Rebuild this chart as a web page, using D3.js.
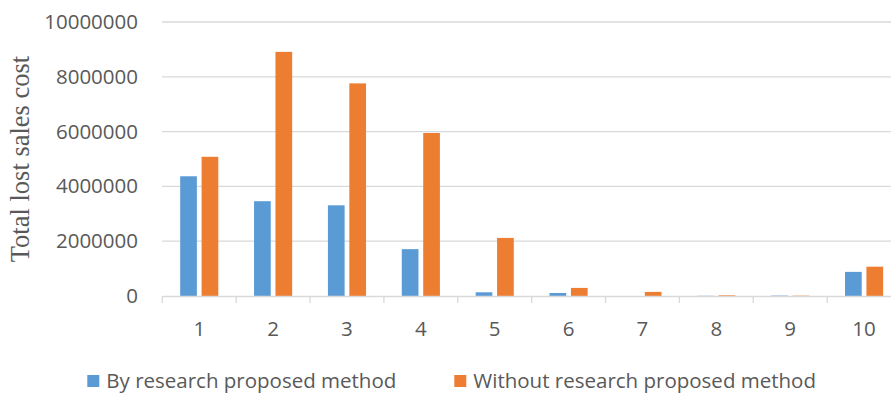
<!DOCTYPE html>
<html>
<head>
<meta charset="utf-8">
<script src="https://cdn.jsdelivr.net/npm/d3@7"></script>
<style>
  html, body { margin: 0; padding: 0; background: #fff; }
  svg { display: block; }
</style>
</head>
<body>
<svg id="chart" width="891" height="394"></svg>
<script>
// Periods on the x axis
const categories = ["1", "2", "3", "4", "5", "6", "7", "8", "9", "10"];
// Total lost sales cost per period
const withMethod = [4370000, 3460000, 3310000, 1710000, 135000, 110000, 0, 8000, 15000, 880000];
const withoutMethod = [5080000, 8910000, 7760000, 5950000, 2120000, 295000, 150000, 25000, 12000, 1070000];
const seriesNames = ["By research proposed method", "Without research proposed method"];
const colors = ["#5B9BD5", "#ED7D31"];
const yTicks = [0, 2000000, 4000000, 6000000, 8000000, 10000000];

const svg = d3.select("#chart");
const tickFont = "'Open Sans', 'Liberation Sans', Arial, sans-serif";

const x0 = d3.scaleBand().domain(categories).range([162.3, 901]).paddingInner(0).paddingOuter(0);
const y = d3.scaleLinear().domain([0, 10000000]).range([296, 22]);

// gridlines
svg.append("g").selectAll("line").data(yTicks.slice(1)).join("line")
  .attr("x1", 162).attr("x2", 891)
  .attr("y1", d => y(d)).attr("y2", d => y(d))
  .attr("stroke", "#D9D9D9").attr("stroke-width", 1.3);

// bars
const bw = x0.bandwidth();
const barW = bw * 0.226;
const gap = bw * 0.064;
const series = [withMethod, withoutMethod];
series.forEach((vals, si) => {
  svg.append("g").selectAll("rect").data(categories).join("rect")
    .attr("x", (c) => x0(c) + bw / 2 + (si === 0 ? -gap / 2 - barW : gap / 2))
    .attr("width", barW)
    .attr("y", (c, i) => y(vals[i]))
    .attr("height", (c, i) => y(0) - y(vals[i]))
    .attr("fill", colors[si]);
});

// x axis
const xAxis = d3.axisBottom(x0).tickSize(0).tickPadding(25);
const gx = svg.append("g").attr("transform", "translate(0,296)").call(xAxis);
gx.select(".domain").attr("stroke", "#D9D9D9").attr("stroke-width", 1.3);
gx.selectAll("text").attr("font-family", tickFont).attr("font-size", 20.5).attr("fill", "#595959")
  .attr("dy", "0.71em");
// category separators
svg.append("g").selectAll("line").data(categories.concat([null])).join("line")
  .attr("x1", (d, i) => 162.3 + i * bw).attr("x2", (d, i) => 162.3 + i * bw)
  .attr("y1", 296).attr("y2", 303)
  .attr("stroke", "#D9D9D9").attr("stroke-width", 1.3);

// y axis labels
const yAxis = d3.axisLeft(y).tickValues(yTicks).tickSize(0).tickPadding(24).tickFormat(d3.format("d"));
const gy = svg.append("g").attr("transform", "translate(162,0)").call(yAxis);
gy.select(".domain").remove();
gy.selectAll("text").attr("font-family", tickFont).attr("font-size", 20.5).attr("fill", "#595959");

// y axis title
svg.append("text")
  .attr("transform", "translate(29,159) rotate(-90)")
  .attr("text-anchor", "middle")
  .attr("font-family", "'Liberation Serif', 'Times New Roman', serif")
  .attr("font-size", 26.5)
  .attr("fill", "#595959")
  .text("Total lost sales cost");

// legend
const legendX = [87.3, 454.3];
const lg = svg.append("g");
seriesNames.forEach((name, i) => {
  lg.append("rect").attr("x", legendX[i]).attr("y", 375).attr("width", 12).attr("height", 12).attr("fill", colors[i]);
  lg.append("text").attr("x", legendX[i] + 19).attr("y", 388)
    .attr("font-family", tickFont).attr("font-size", 20.5).attr("fill", "#595959")
    .text(name);
});
</script>
</body>
</html>
